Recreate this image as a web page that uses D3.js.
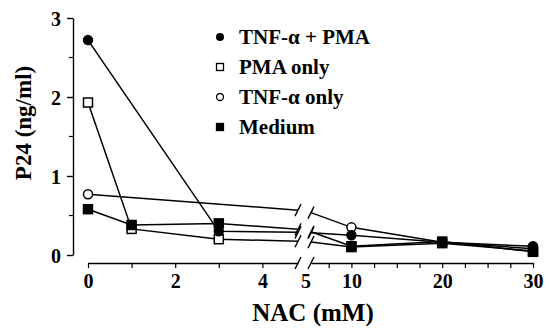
<!DOCTYPE html>
<html>
<head>
<meta charset="utf-8">
<script src="https://cdn.jsdelivr.net/npm/d3@7"></script>
<style>
  body { margin: 0; background: #fff; }
  text { font-family: "Liberation Serif", serif; font-weight: bold; fill: #000; }
</style>
</head>
<body>
<svg id="chart"></svg>
<script>
// values (NAC in mM, P24 in ng/ml)
const seriesNames = ['TNF-α + PMA', 'PMA only', 'TNF-α  only', 'Medium'];
const markers = ['dot', 'openSquare', 'openDot', 'square'];
const nacTnfPma = [0, 3, 10, 20, 30];
const p24TnfPma = [2.72, 0.30, 0.25, 0.16, 0.11];
const nacPma = [0, 1, 3, 10, 20, 30];
const p24Pma = [1.93, 0.33, 0.20, 0.10, 0.15, 0.05];
const nacTnf = [0, 10, 20, 30];
const p24Tnf = [0.77, 0.35, 0.16, 0.08];
const nacMedium = [0, 1, 3, 10, 20, 30];
const p24Medium = [0.58, 0.38, 0.40, 0.11, 0.17, 0.04];
const yTicks = [0, 1, 2, 3];
const xTicksLeft = [0, 2, 4];
const xTicksRight = [5, 10, 20, 30];

const series = [
  {xs: nacTnfPma, ys: p24TnfPma},
  {xs: nacPma, ys: p24Pma},
  {xs: nacTnf, ys: p24Tnf},
  {xs: nacMedium, ys: p24Medium}
].map((s, i) => ({name: seriesNames[i], marker: markers[i],
  points: s.xs.map((x, j) => ({x: x, y: s.ys[j]}))}));

const WIDTH = 549, HEIGHT = 331;
const BREAK = 5, GAP_L = 298, GAP_R = 311;

const x = d3.scaleLinear().domain([0, BREAK, 30]).range([88, 306, 533]);
const y = d3.scaleLinear().domain([0, 3]).range([255, 18]);

const svg = d3.select('#chart').attr('width', WIDTH).attr('height', HEIGHT);

// y axis
const yAxis = svg.append('g').attr('transform', 'translate(73,0)');
yAxis.call(d3.axisLeft(y).tickValues(yTicks).tickFormat(d3.format('d')).tickSize(6).tickSizeOuter(0).tickPadding(6));
yAxis.selectAll('.minor').data([0.5, 1.5, 2.5]).enter().append('line')
  .attr('x1', -4).attr('x2', 0).attr('y1', d => y(d)).attr('y2', d => y(d))
  .attr('stroke', '#000').attr('stroke-width', 1.2);
yAxis.select('.domain').attr('stroke-width', 1.4);
yAxis.selectAll('.tick line').attr('stroke-width', 1.4);
yAxis.selectAll('.tick text').style('font-size', '20px').attr('dy', '0.36em');

// x axis, two pieces with a break
const AXIS_Y = 263;
const xl = d3.scaleLinear().domain([0, x.invert(GAP_L)]).range([88, GAP_L]);
const xr = d3.scaleLinear().domain([x.invert(GAP_R), 30]).range([GAP_R, 533]);
const xAxisL = svg.append('g').attr('transform', `translate(0,${AXIS_Y})`)
  .call(d3.axisBottom(xl).tickValues([0, 1, 2, 3, 4]).tickFormat(d => xTicksLeft.includes(d) ? d : '')
    .tickSize(5).tickSizeOuter(0).tickPadding(6));
const xAxisR = svg.append('g').attr('transform', `translate(0,${AXIS_Y})`)
  .call(d3.axisBottom(xr).tickValues(d3.range(7.5, 30.1, 2.5)).tickFormat(d => xTicksRight.includes(d) ? d : '')
    .tickSize(5).tickSizeOuter(0).tickPadding(6));
svg.append('text').attr('x', x(5)).attr('y', AXIS_Y + 11).attr('dy', '0.71em')
  .attr('text-anchor', 'middle').style('font-size', '20px').text(xTicksRight[0]);
[xAxisL, xAxisR].forEach(g => {
  g.select('.domain').attr('stroke-width', 1.4);
  g.selectAll('.tick line').attr('stroke-width', 1.2);
  g.selectAll('.tick text').style('font-size', '20px');
});

function slash(cx, cy) {
  svg.append('line').attr('x1', cx - 3).attr('y1', cy + 6).attr('x2', cx + 3).attr('y2', cy - 6)
    .attr('stroke', '#000').attr('stroke-width', 1.4);
}
slash(GAP_L, AXIS_Y);
slash(GAP_R, AXIS_Y);

// axis titles
svg.append('text').attr('x', 313).attr('y', 321).attr('text-anchor', 'middle')
  .style('font-size', '25px').text('NAC (mM)');
svg.append('text').attr('transform', 'translate(31,123) rotate(-90)').attr('text-anchor', 'middle')
  .style('font-size', '23px').text('P24 (ng/ml)');

// lines: interpolate in data space at the break, then trim to the gap
function valueAt(pts, xv) {
  for (let i = 0; i < pts.length - 1; i++) {
    const a = pts[i], b = pts[i + 1];
    if (a.x <= xv && b.x >= xv) return a.y + (b.y - a.y) * (xv - a.x) / (b.x - a.x);
  }
  return null;
}
function trimTo(p, q, px) {
  const t = (px - p[0]) / (q[0] - p[0]);
  return [px, p[1] + (q[1] - p[1]) * t];
}
const line = d3.line();
series.forEach(s => {
  const yb = valueAt(s.points, BREAK);
  const left = s.points.filter(d => d.x < BREAK).map(d => [x(d.x), y(d.y)]);
  const right = s.points.filter(d => d.x > BREAK).map(d => [x(d.x), y(d.y)]);
  const mid = [x(BREAK), y(yb)];
  const endL = trimTo(left[left.length - 1], mid, GAP_L);
  const startR = trimTo(mid, right[0], GAP_R);
  left.push(endL);
  right.unshift(startR);
  svg.append('path').attr('d', line(left)).attr('fill', 'none').attr('stroke', '#000').attr('stroke-width', 1.5);
  svg.append('path').attr('d', line(right)).attr('fill', 'none').attr('stroke', '#000').attr('stroke-width', 1.5);
  slash(endL[0], endL[1]);
  slash(startR[0], startR[1]);
});

function drawMarker(g, type, cx, cy) {
  if (type === 'dot' || type === 'openDot') {
    g.append('circle').attr('cx', cx).attr('cy', cy).attr('r', 4.5)
      .attr('fill', type === 'dot' ? '#000' : '#fff').attr('stroke', '#000').attr('stroke-width', 1.5);
  } else {
    g.append('rect').attr('x', cx - 4.5).attr('y', cy - 4.5).attr('width', 9).attr('height', 9)
      .attr('fill', type === 'square' ? '#000' : '#fff').attr('stroke', '#000').attr('stroke-width', 1.5);
  }
}

const markG = svg.append('g');
// open markers first so the filled ones sit on top like in the figure
[2, 1, 0, 3].forEach(i => {
  series[i].points.forEach(d => drawMarker(markG, series[i].marker, x(d.x), y(d.y)));
});

// legend
const legend = svg.append('g');
series.forEach((s, i) => {
  const ly = 37 + i * 30;
  const lg = legend.append('g');
  if (s.marker === 'dot') lg.append('circle').attr('cx', 220).attr('cy', ly).attr('r', 4).attr('fill', '#000');
  else if (s.marker === 'openDot') lg.append('circle').attr('cx', 220).attr('cy', ly).attr('r', 3.5).attr('fill', '#fff').attr('stroke', '#000').attr('stroke-width', 1.3);
  else lg.append('rect').attr('x', 216.5).attr('y', ly - 3.5).attr('width', 7).attr('height', 7)
    .attr('fill', s.marker === 'square' ? '#000' : '#fff').attr('stroke', '#000').attr('stroke-width', 1.3);
  lg.append('text').attr('x', 239).attr('y', ly).attr('dy', '0.35em').style('font-size', '21px').text(s.name);
});
</script>
</body>
</html>
